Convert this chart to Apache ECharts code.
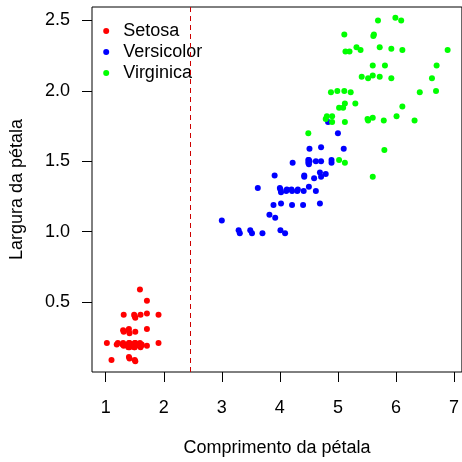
<!DOCTYPE html>
<html>
<head>
<meta charset="utf-8">
<script src="https://cdn.jsdelivr.net/npm/echarts@6.0.0/dist/echarts.min.js"></script>
<style>html,body{margin:0;padding:0;background:#fff;}#c{width:462px;height:462px;}</style>
</head>
<body>
<div id="c"></div>
<script>
// Petal length (x) vs petal width (y) (slightly jittered)
const setosa = [
  [1.10,0.09],[1.40,0.11],[1.41,0.10],[1.51,0.08],[1.50,0.09],
  [1.02,0.21],[1.21,0.21],[1.19,0.20],[1.31,0.19],[1.30,0.21],[1.29,0.20],[1.31,0.20],
  [1.40,0.21],[1.41,0.18],[1.39,0.20],[1.40,0.19],[1.41,0.21],[1.39,0.18],[1.40,0.20],[1.42,0.19],
  [1.51,0.21],[1.50,0.18],[1.49,0.20],[1.51,0.19],[1.50,0.21],[1.52,0.20],[1.49,0.18],
  [1.60,0.20],[1.62,0.20],[1.59,0.21],[1.61,0.19],[1.60,0.18],[1.71,0.19],[1.91,0.21],
  [1.31,0.29],[1.30,0.30],[1.40,0.31],[1.41,0.28],[1.39,0.30],[1.51,0.29],[1.71,0.31],
  [1.31,0.41],[1.49,0.41],[1.51,0.39],[1.50,0.40],[1.60,0.41],[1.71,0.42],[1.91,0.41],
  [1.71,0.51],[1.59,0.59]
];
const versicolor = [
  [3.29,1.01],[3.31,0.99],[3.49,1.01],[3.52,0.99],[3.70,0.99],[4.01,1.01],[4.09,0.99],
  [3.00,1.08],[3.82,1.12],[3.92,1.10],
  [3.89,1.19],[4.02,1.20],[4.21,1.19],[4.40,1.19],[4.69,1.20],
  [3.62,1.31],[4.01,1.30],[4.02,1.28],[4.00,1.31],[4.12,1.30],[4.11,1.29],[4.21,1.29],
  [4.20,1.30],[4.30,1.29],[4.31,1.30],[4.41,1.29],[4.50,1.32],[4.62,1.29],
  [3.91,1.40],[4.42,1.40],[4.42,1.39],[4.59,1.38],[4.69,1.42],[4.71,1.39],[4.79,1.41],
  [4.22,1.49],[4.49,1.51],[4.50,1.48],[4.51,1.50],[4.49,1.49],[4.50,1.51],[4.62,1.50],
  [4.71,1.50],[4.89,1.51],[4.89,1.49],
  [4.51,1.59],[4.71,1.60],[5.10,1.59],[5.00,1.70],[4.83,1.78]
];
const virginica = [
  [5.69,2.50],[5.99,2.52],[6.09,2.50],
  [5.11,2.40],[5.62,2.40],[5.61,2.39],
  [5.13,2.28],[5.20,2.28],[5.32,2.31],[5.39,2.29],[5.72,2.31],[5.92,2.30],[6.11,2.29],[6.89,2.29],
  [5.60,2.18],[5.81,2.18],[6.70,2.18],
  [5.41,2.10],[5.52,2.09],[5.60,2.11],[5.72,2.10],[5.92,2.09],[6.62,2.09],
  [4.88,1.99],[4.99,2.00],[5.11,2.00],[5.22,1.99],[6.41,1.99],[6.69,2.00],
  [5.02,1.88],[5.09,1.88],[5.12,1.91],[5.30,1.91],[6.11,1.89],
  [4.79,1.80],[4.81,1.82],[4.90,1.82],[4.90,1.78],[5.12,1.78],[5.51,1.80],[5.52,1.79],
  [5.60,1.81],[5.79,1.79],[6.01,1.82],[6.32,1.79],
  [4.49,1.70],[5.80,1.58],[5.02,1.51],[5.12,1.49],[5.60,1.39]
];
const seriesNames = ['Setosa','Versicolor','Virginica'];
const seriesColors = ['#FF0000','#0000FF','#00FF00'];
const xTicks = [1,2,3,4,5,6,7];
const yTicks = [0.5,1.0,1.5,2.0,2.5];
const cutoff = 2.45;

const FONT = "'Liberation Sans', Arial, Helvetica, sans-serif";
const chart = echarts.init(document.getElementById('c'), null, {renderer:'canvas'});
const datasets = [setosa, versicolor, virginica];
const series = datasets.map((d,i)=>({
  name: seriesNames[i],
  type: 'scatter',
  data: d,
  symbol: 'circle',
  symbolSize: 6,
  itemStyle: {color: seriesColors[i], opacity: 1},
  emphasis: {disabled: true},
  silent: true
}));
series[0].markLine = {
  silent: true,
  symbol: ['none','none'],
  label: {show: false},
  lineStyle: {color: '#CD0000', type: [5,4], width: 1},
  data: [{xAxis: cutoff}]
};
chart.setOption({
  animation: false,
  backgroundColor: '#fff',
  textStyle: {fontFamily: FONT},
  grid: {left: 90.6, top: 7, width: 372.4, height: 369, show: true, borderColor: '#000', borderWidth: 1},
  legend: {
    orient: 'vertical', left: 103.2, top: 20.5, padding: 0, itemGap: 0,
    itemWidth: 24, itemHeight: 6, icon: 'circle',
    data: seriesNames,
    textStyle: {fontSize: 18, color: '#000', fontFamily: FONT, lineHeight: 21}
  },
  xAxis: {
    type: 'value', min: 0.764, max: 7.136,
    name: 'Comprimento da pétala', nameLocation: 'middle', nameGap: 67,
    nameTextStyle: {fontSize: 18, color: '#000', fontFamily: FONT},
    axisLine: {show: false},
    splitLine: {show: false},
    axisTick: {show: true, inside: false, length: 10, customValues: xTicks, lineStyle: {color: '#000'}},
    axisLabel: {show: true, customValues: xTicks, margin: 27, fontSize: 18, color: '#000', fontFamily: FONT,
      formatter: v => String(v)}
  },
  yAxis: {
    type: 'value', min: 0.004, max: 2.596,
    name: 'Largura da pétala', nameLocation: 'middle', nameGap: 66,
    nameTextStyle: {fontSize: 18, color: '#000', fontFamily: FONT},
    axisLine: {show: false},
    splitLine: {show: false},
    axisTick: {show: true, inside: false, length: 10, customValues: yTicks, lineStyle: {color: '#000'}},
    axisLabel: {show: true, customValues: yTicks, margin: 22, fontSize: 18, color: '#000', fontFamily: FONT,
      formatter: v => v.toFixed(1)}
  },
  series: series
});
</script>
</body>
</html>
